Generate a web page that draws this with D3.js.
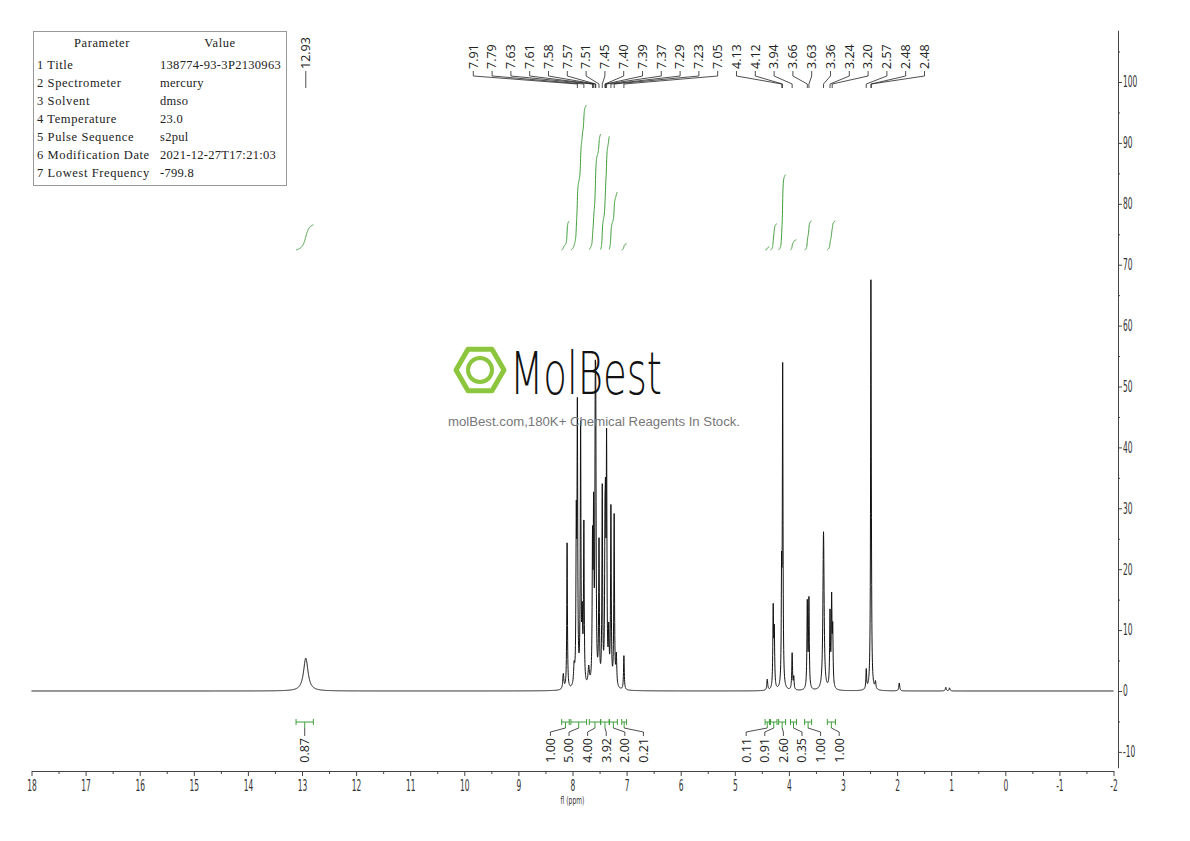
<!DOCTYPE html>
<html>
<head>
<meta charset="utf-8">
<script src="https://cdn.jsdelivr.net/npm/d3@7"></script>
<style>
  body { margin: 0; background: #fff; }
  svg { display: block; }
  .ax text { font-family: "DejaVu Sans", sans-serif; font-size: 15px; fill: #333; }
  .ax path, .ax line { stroke: #444; }
  .lbl { font-family: "Open Sans", "Liberation Sans", sans-serif; font-size: 12.5px; fill: #222; }
  .tbl { font-family: "Liberation Serif", "DejaVu Serif", serif; font-size: 12.5px; letter-spacing: 0.6px; fill: #222; }
  .tbl.val { letter-spacing: 0.3px; }
</style>
</head>
<body>
<svg width="1190" height="841"></svg>
<script>
var svg = d3.select("svg");

// acquisition parameters
var paramNames = ["1 Title", "2 Spectrometer", "3 Solvent", "4 Temperature", "5 Pulse Sequence", "6 Modification Date", "7 Lowest Frequency"];
var paramValues = ["138774-93-3P2130963", "mercury", "dmso", "23.0", "s2pul", "2021-12-27T17:21:03", "-799.8"];

// peaks: position (ppm), height (axis units), half width (ppm)
var peakPpm    = [12.93, 8.17, 8.10, 7.97, 7.93, 7.91, 7.85, 7.82, 7.79, 7.70, 7.63, 7.61, 7.58, 7.57, 7.51, 7.45, 7.40, 7.39, 7.37, 7.33, 7.29, 7.23, 7.19, 7.05,
                  4.40, 4.29, 4.27, 4.135, 4.115, 3.94, 3.91, 3.66, 3.63, 3.36, 3.24, 3.21, 3.19, 2.57, 2.484, 2.476, 2.40, 1.96, 1.10, 1.03];
var peakHeight = [5.4, 2.5, 24, 3, 25, 44, 42, 10, 26, 3, 22, 26, 37, 37, 23, 32, 20, 22, 38, 8, 29, 28, 5, 5.6,
                  1.8, 13, 9, 17, 52, 6, 2, 14, 14.5, 26, 12, 14, 9, 3.2, 64, 8, 1.2, 1.3, 0.6, 0.5];
var peakWidth  = [0.05, 0.012, 0.007, 0.012, 0.0075, 0.0075, 0.0075, 0.009, 0.0075, 0.015, 0.0075, 0.0075, 0.0075, 0.0075, 0.0075, 0.0075, 0.0075, 0.0075, 0.0075, 0.009, 0.0075, 0.0075, 0.01, 0.008,
                  0.01, 0.008, 0.008, 0.007, 0.007, 0.008, 0.008, 0.008, 0.008, 0.013, 0.008, 0.008, 0.008, 0.008, 0.007, 0.007, 0.01, 0.01, 0.01, 0.01];

// labelled peaks
var peakLabels = [12.93, 7.91, 7.79, 7.63, 7.61, 7.58, 7.57, 7.51, 7.45, 7.40, 7.39, 7.37, 7.29, 7.23, 7.05,
                  4.13, 4.12, 3.94, 3.66, 3.63, 3.36, 3.24, 3.20, 2.57, 2.48, 2.48];

// integrals
var intFrom  = [13.11, 8.20, 8.03, 7.69, 7.48, 7.32, 7.09, 4.44, 4.34, 4.19, 3.97, 3.71, 3.29];
var intTo    = [12.79, 8.06, 7.74, 7.48, 7.32, 7.17, 7.00, 4.36, 4.22, 4.06, 3.86, 3.58, 3.14];
var intValue = [0.87, 1.00, 5.00, 4.00, 3.92, 2.00, 0.21, 0.11, 0.91, 2.60, 0.35, 1.00, 1.00];

// axis ticks
var ppmTicks = [18, 17, 16, 15, 14, 13, 12, 11, 10, 9, 8, 7, 6, 5, 4, 3, 2, 1, 0, -1, -2];
var ppmMinor = [17.5, 16.5, 15.5, 14.5, 13.5, 12.5, 11.5, 10.5, 9.5, 8.5, 7.5, 6.5, 5.5, 4.5, 3.5, 2.5, 1.5, 0.5, -0.5, -1.5];
var yTicks = [-10, 0, 10, 20, 30, 40, 50, 60, 70, 80, 90, 100];
var yMinor = [-5, 5, 15, 25, 35, 45, 55, 65, 75, 85, 95, 105];

var x = d3.scaleLinear().domain([18, -2]).range([31.5, 1113.5]);
var y = d3.scaleLinear().domain([0, 100]).range([691, 82]);
var yAxisScale = y.copy().domain([-12.6, 108.5]).range([y(-12.6), y(108.5)]);
var intY = d3.scaleLinear().domain([0, 1]).range([250, 221]);

var green = "#3f9e3a";
var plain = function (d) { return String(d); };

function spectrum(p) {
  var s = 0;
  for (var i = 0; i < peakPpm.length; i++) {
    var d = p - peakPpm[i], g = peakWidth[i];
    s += peakHeight[i] * g * g / (d * d + g * g);
  }
  return s;
}

var grid = d3.range(18, -2.0001, -0.002);
var trace = grid.concat(peakPpm).sort(d3.descending).map(function (p) {
  return [p, spectrum(p)];
});

// ---- axes
var xAxis = svg.append("g").attr("class", "ax").attr("transform", "translate(0,771)")
  .call(d3.axisBottom(x).tickValues(ppmTicks).tickSize(5).tickSizeOuter(0).tickPadding(4).tickFormat(plain));
xAxis.selectAll("text").attr("transform", "scale(0.5,1)");
svg.append("g").attr("class", "ax").attr("transform", "translate(0,771)")
  .call(d3.axisBottom(x).tickValues(ppmMinor).tickSize(3).tickSizeOuter(0).tickFormat(""))
  .select(".domain").remove();
svg.append("text").attr("transform", "translate(" + x(8) + ",804) scale(0.6,1)").attr("text-anchor", "middle")
  .style("font-family", "'DejaVu Sans', sans-serif").style("font-size", "10px").style("fill", "#333")
  .text("fl (ppm)");

var yAxis = svg.append("g").attr("class", "ax").attr("transform", "translate(1118,0)")
  .call(d3.axisRight(yAxisScale).tickValues(yTicks).tickSize(4).tickSizeOuter(0).tickFormat(plain));
yAxis.selectAll("text").attr("x", 0).attr("transform", "translate(5,0) scale(0.5,1)");
svg.append("g").attr("class", "ax").attr("transform", "translate(1118,0)")
  .call(d3.axisRight(yAxisScale).tickValues(yMinor).tickSize(2).tickSizeOuter(0).tickFormat(""))
  .select(".domain").remove();

// ---- spectrum
svg.append("path")
  .datum(trace)
  .attr("fill", "none")
  .attr("stroke", "#111")
  .attr("stroke-width", 1)
  .attr("d", d3.line().x(function (d) { return x(d[0]); }).y(function (d) { return y(d[1]); }));

// ---- integral curves
intFrom.forEach(function (f, i) {
  var pts = grid.filter(function (p) { return p <= f && p >= intTo[i]; });
  var vals = pts.map(spectrum);
  var total = d3.sum(vals), acc = 0;
  var cum = pts.map(function (p, k) { acc += vals[k]; return [p, acc / total * intValue[i]]; });
  svg.append("path").datum(cum)
    .attr("fill", "none").attr("stroke", green).attr("stroke-width", 1)
    .attr("d", d3.line().x(function (d) { return x(d[0]); }).y(function (d) { return intY(d[1]); }));
});

// spread labels so they keep a minimum gap (pool adjacent violators)
function spread(targets, gap) {
  var blocks = [];
  targets.forEach(function (t, i) {
    blocks.push({ sum: t - i * gap, n: 1, start: i });
    while (blocks.length > 1) {
      var last = blocks[blocks.length - 1], prev = blocks[blocks.length - 2];
      if (prev.sum / prev.n <= last.sum / last.n) break;
      prev.sum += last.sum; prev.n += last.n; blocks.pop();
    }
  });
  var out = [];
  blocks.forEach(function (b) {
    for (var k = 0; k < b.n; k++) out.push(b.sum / b.n + (b.start + k) * gap);
  });
  return out;
}

// ---- integral bars and labels
var intCenters = intFrom.map(function (f, i) { return x((f + intTo[i]) / 2); });
var intLabelX = spread(intCenters, 18.6);
var ib = svg.append("g");
intFrom.forEach(function (f, i) {
  var x0 = x(f), x1 = x(intTo[i]), cx = intCenters[i], lx = intLabelX[i];
  ib.append("path").attr("fill", "none").attr("stroke", green).attr("stroke-width", 1)
    .attr("d", "M" + x0 + ",719V725M" + x0 + ",722H" + x1 + "M" + x1 + ",719V725M" + cx + ",722V728");
  ib.append("path").attr("fill", "none").attr("stroke", "#222").attr("stroke-width", 0.8)
    .attr("d", "M" + cx + ",728L" + lx + ",732V736");
  ib.append("text").attr("class", "lbl")
    .attr("transform", "translate(" + lx + ",738) rotate(-90)")
    .attr("text-anchor", "end").attr("dy", "0.35em")
    .text(intValue[i].toFixed(2));
});

// ---- peak labels
var peakX = peakLabels.map(function (p) { return x(p); });
var peakLabelX = spread(peakX, 18.8);
var pl = svg.append("g");
peakLabels.forEach(function (p, i) {
  var px = peakX[i], lx = peakLabelX[i];
  pl.append("path").attr("fill", "none").attr("stroke", "#222").attr("stroke-width", 0.8)
    .attr("d", "M" + lx + ",71V76L" + px + ",84V88");
  pl.append("text").attr("class", "lbl")
    .attr("transform", "translate(" + lx + ",69) rotate(-90)")
    .attr("text-anchor", "start").attr("dy", "0.35em")
    .text(p.toFixed(2));
});

// ---- parameter table
var tbl = svg.append("g");
tbl.append("rect").attr("x", 33.5).attr("y", 31.5).attr("width", 253).attr("height", 154)
  .attr("fill", "#fff").attr("stroke", "#999");
tbl.append("text").attr("class", "tbl").attr("x", 102).attr("y", 47).attr("text-anchor", "middle").text("Parameter");
tbl.append("text").attr("class", "tbl").attr("x", 220).attr("y", 47).attr("text-anchor", "middle").text("Value");
paramNames.forEach(function (n, i) {
  tbl.append("text").attr("class", "tbl").attr("x", 37).attr("y", 69 + i * 18).text(n);
  tbl.append("text").attr("class", "tbl val").attr("x", 160).attr("y", 69 + i * 18).text(paramValues[i]);
});

// ---- watermark
var wm = svg.append("g");
var hex = d3.range(6).map(function (k) {
  var a = Math.PI / 3 * k;
  return [480 + 24 * Math.cos(a), 370 + 24 * Math.sin(a)];
});
wm.append("polygon").attr("points", hex.join(" "))
  .attr("fill", "none").attr("stroke", "#8cc63f").attr("stroke-width", 5).attr("stroke-linejoin", "round");
wm.append("circle").attr("cx", 480).attr("cy", 370).attr("r", 12)
  .attr("fill", "none").attr("stroke", "#8cc63f").attr("stroke-width", 4);
wm.append("text").attr("x", 510).attr("y", 394)
  .attr("textLength", 152).attr("lengthAdjust", "spacingAndGlyphs")
  .style("font-family", "'DejaVu Sans', sans-serif").style("font-size", "58px").style("font-weight", "200").style("fill", "#111")
  .text("MolBest");
wm.append("text").attr("x", 594).attr("y", 426).attr("text-anchor", "middle")
  .attr("textLength", 292).attr("lengthAdjust", "spacingAndGlyphs")
  .style("font-family", "'Liberation Sans', sans-serif").style("font-size", "12px").style("fill", "#777")
  .text("molBest.com,180K+ Chemical Reagents In Stock.");
</script>
</body>
</html>
